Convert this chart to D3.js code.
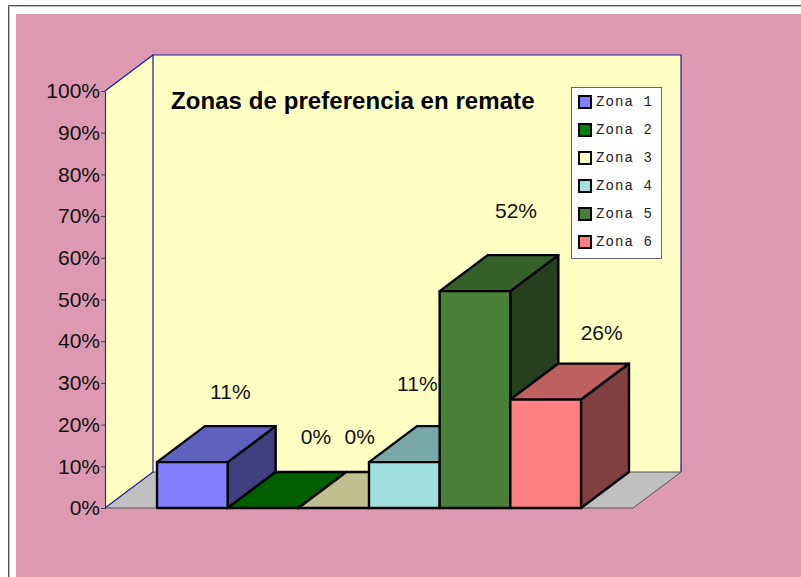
<!DOCTYPE html>
<html><head><meta charset="utf-8">
<script src="https://cdn.jsdelivr.net/npm/d3@7"></script>
<style>html,body{margin:0;padding:0;background:#fff;overflow:hidden}svg{display:block}</style>
</head><body><svg id="c" width="801" height="577"></svg>
<script>
const categories = ["Zona 1","Zona 2","Zona 3","Zona 4","Zona 5","Zona 6"];
const values = [11,0,0,11,52,26];
const colors = ["#8080FF","#008000","#FFFFC0","#A0E0E0","#488038","#FF8080"];
const yTicks = [0,10,20,30,40,50,60,70,80,90,100];
const title = "Zonas de preferencia en remate";

const svg = d3.select("#c");
const dx = 48, dy = -36;
const sans = "'Liberation Sans',Arial,sans-serif";
const y = d3.scaleLinear().domain([0,100]).range([508,91]);
const x = d3.scaleBand().domain(categories).range([157,581]);
const plotL = 105, plotR = 633;
const pts = a => a.map(p => p.join(",")).join(" ");
const shade = (c,k) => { const r = d3.rgb(c); return d3.rgb(r.r*k,r.g*k,r.b*k).formatHex(); };

// page frame
svg.append("rect").attr("x",16).attr("y",14).attr("width",785).attr("height",563).attr("fill","#DD99B2");
svg.append("path").attr("d","M8.5,577V5.5H801").attr("fill","none").attr("stroke","#555").attr("stroke-width",1);
svg.append("path").attr("d","M9.5,577V6.5H801").attr("fill","none").attr("stroke","#bbb").attr("stroke-width",1);

// walls and floor
const y0 = y(0), y100 = y(100);
svg.append("polygon").attr("points",pts([[plotL+dx,y100+dy],[plotR+dx,y100+dy],[plotR+dx,y0+dy],[plotL+dx,y0+dy]])).attr("fill","#FFFFC4");
svg.append("polygon").attr("points",pts([[plotL,y100],[plotL+dx,y100+dy],[plotL+dx,y0+dy],[plotL,y0]])).attr("fill","#FFFFC4");
svg.append("polygon").attr("points",pts([[plotL,y0],[plotL+dx,y0+dy],[plotR+dx,y0+dy],[plotR,y0]])).attr("fill","#C0C0C0");
svg.append("path").attr("d",`M${plotL},${y100}L${plotL+dx},${y100+dy}V${y0+dy}L${plotL},${y0}M${plotL+dx},${y100+dy}H${plotR+dx}V${y0+dy}`)
  .attr("fill","none").attr("stroke","#1A1A9C").attr("stroke-width",1.2);
svg.append("path").attr("d",`M${plotL},${y0}H${plotR}L${plotR+dx},${y0+dy}H${plotL+dx}`)
  .attr("fill","none").attr("stroke","#555").attr("stroke-width",1);

// axis
const axis = d3.axisLeft(y).tickValues(yTicks).tickFormat(d=>d+"%").tickSize(4).tickSizeOuter(0);
const ag = svg.append("g").attr("transform",`translate(${plotL},0)`).call(axis);
ag.select(".domain").attr("stroke","#1A1A9C");
ag.selectAll(".tick line").attr("stroke","#444");
ag.selectAll("text").attr("font-family",sans).attr("font-size",21).attr("fill","#111").attr("x",-5);

// bars
const bars = svg.append("g").attr("stroke","#000").attr("stroke-width",2.4).attr("stroke-linejoin","round");
categories.forEach((c,i)=>{
  const xa = x(c), xb = xa + x.bandwidth(), yt = y(values[i]);
  const g = bars.append("g");
  g.append("polygon").attr("fill",shade(colors[i],.5)).attr("points",pts([[xb,yt],[xb+dx,yt+dy],[xb+dx,y0+dy],[xb,y0]]));
  g.append("polygon").attr("fill",shade(colors[i],.75)).attr("points",pts([[xa,yt],[xa+dx,yt+dy],[xb+dx,yt+dy],[xb,yt]]));
  g.append("rect").attr("x",xa).attr("y",yt).attr("width",x.bandwidth()).attr("height",y0-yt).attr("fill",colors[i]);
});

// data labels (hand-placed in the original, offset from each bar centre/top)
const labelShift = [[38,-63],[53,-64],[26,-64],[13,-71],[41,-73],[56,-60]];
categories.forEach((c,i)=>{
  svg.append("text").attr("x",x(c)+x.bandwidth()/2+labelShift[i][0]).attr("y",y(values[i])+labelShift[i][1])
    .attr("text-anchor","middle").attr("font-family",sans).attr("font-size",21).attr("fill","#111").text(values[i]+"%");
});

// title
svg.append("text").attr("x",171).attr("y",109).attr("font-family",sans).attr("font-weight","bold").attr("font-size",24).attr("letter-spacing",0.07).attr("fill","#000").text(title);

// legend
svg.append("rect").attr("x",571.5).attr("y",87.5).attr("width",90).attr("height",171).attr("fill","#fff").attr("stroke","#666").attr("stroke-width",1);
const ly = d3.scalePoint().domain(categories).range([102,242]);
categories.forEach((c,i)=>{
  svg.append("rect").attr("x",579).attr("y",ly(c)-6).attr("width",12).attr("height",12).attr("fill",colors[i]).attr("stroke","#000").attr("stroke-width",2);
  svg.append("text").attr("x",596).attr("y",ly(c)+4).attr("font-family","'Liberation Mono',monospace").attr("font-size",14).attr("letter-spacing",1.1).attr("fill","#222").text(c);
});
</script></body></html>
